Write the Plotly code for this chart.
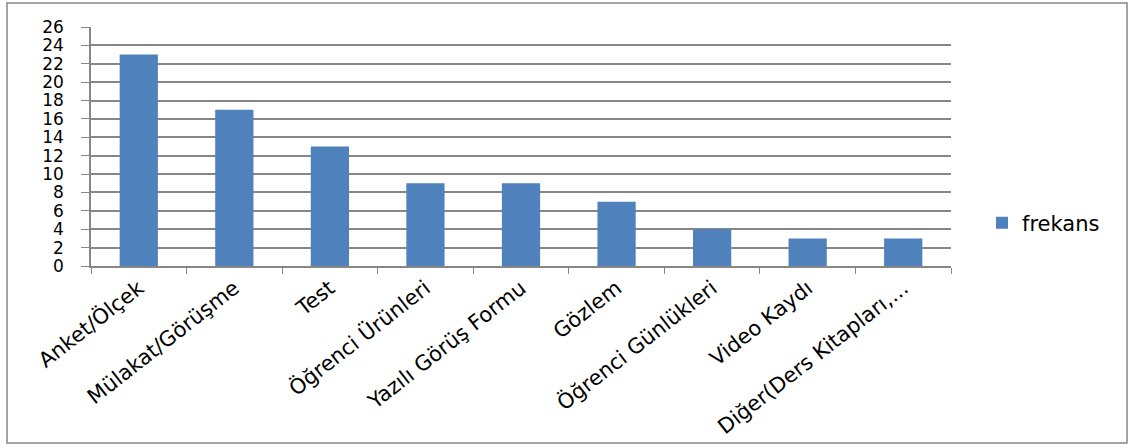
import plotly.graph_objects as go

categories = ["Anket/Ölçek", "Mülakat/Görüşme", "Test", "Öğrenci Ürünleri",
              "Yazılı Görüş Formu", "Gözlem", "Öğrenci Günlükleri", "Video Kaydı",
              "Diğer(Ders Kitapları,..."]
frekans = [23, 17, 13, 9, 9, 7, 4, 3, 3]
series_name = "frekans"
y_ticks = list(range(0, 27, 2))

W, H = 1132, 448
L, T = 91, 27
R = W - 951
B = H - 266
pw, ph = W - L - R, H - T - B

fig = go.Figure()
fig.add_trace(go.Bar(x=categories, y=frekans, name=series_name,
                     marker=dict(color="#4F81BD", line=dict(width=0))))

font_family = "DejaVu Sans, Liberation Sans, sans-serif"
fig.update_layout(
    width=W, height=H,
    margin=dict(l=L, r=R, t=T, b=B, pad=0, autoexpand=False),
    paper_bgcolor="white", plot_bgcolor="white",
    bargap=0.6,
    showlegend=True,
    legend=dict(x=(982 - L) / pw, y=(266 - 223) / ph,
                xanchor="left", yanchor="middle",
                font=dict(family=font_family, size=21, color="#000000"),
                bgcolor="rgba(0,0,0,0)", itemsizing="constant"),
    font=dict(family=font_family, color="#000000"),
    xaxis=dict(
        automargin=False,
        tickangle=-38, tickfont=dict(size=21, family=font_family, color="#000000"),
        showline=True, linecolor="#868686", linewidth=1.5,
        ticks="outside", tickson="boundaries", ticklen=6, tickcolor="#868686",
        showgrid=False,
    ),
    yaxis=dict(
        automargin=False,
        range=[0, 26], tickvals=y_ticks, ticktext=[str(v) for v in y_ticks],
        tickfont=dict(size=17, family=font_family, color="#000000"),
        showline=True, linecolor="#868686", linewidth=1.5,
        ticks="outside", ticklen=8, tickcolor="#868686",
        showgrid=True, gridcolor="#868686", gridwidth=1.5,
        ticklabelstandoff=14, zeroline=False,
    ),
)

fig.add_shape(type="rect", xref="paper", yref="paper",
              x0=(7 - L) / pw, x1=(1127 - L) / pw,
              y0=(266 - 443) / ph, y1=(266 - 3) / ph,
              line=dict(color="#868686", width=1.5), fillcolor="rgba(0,0,0,0)",
              layer="below")

fig.write_html("out.html",
               config={"displayModeBar": False},
               post_script="document.body.style.margin='0px';"
                           "document.body.style.overflow='hidden';")
